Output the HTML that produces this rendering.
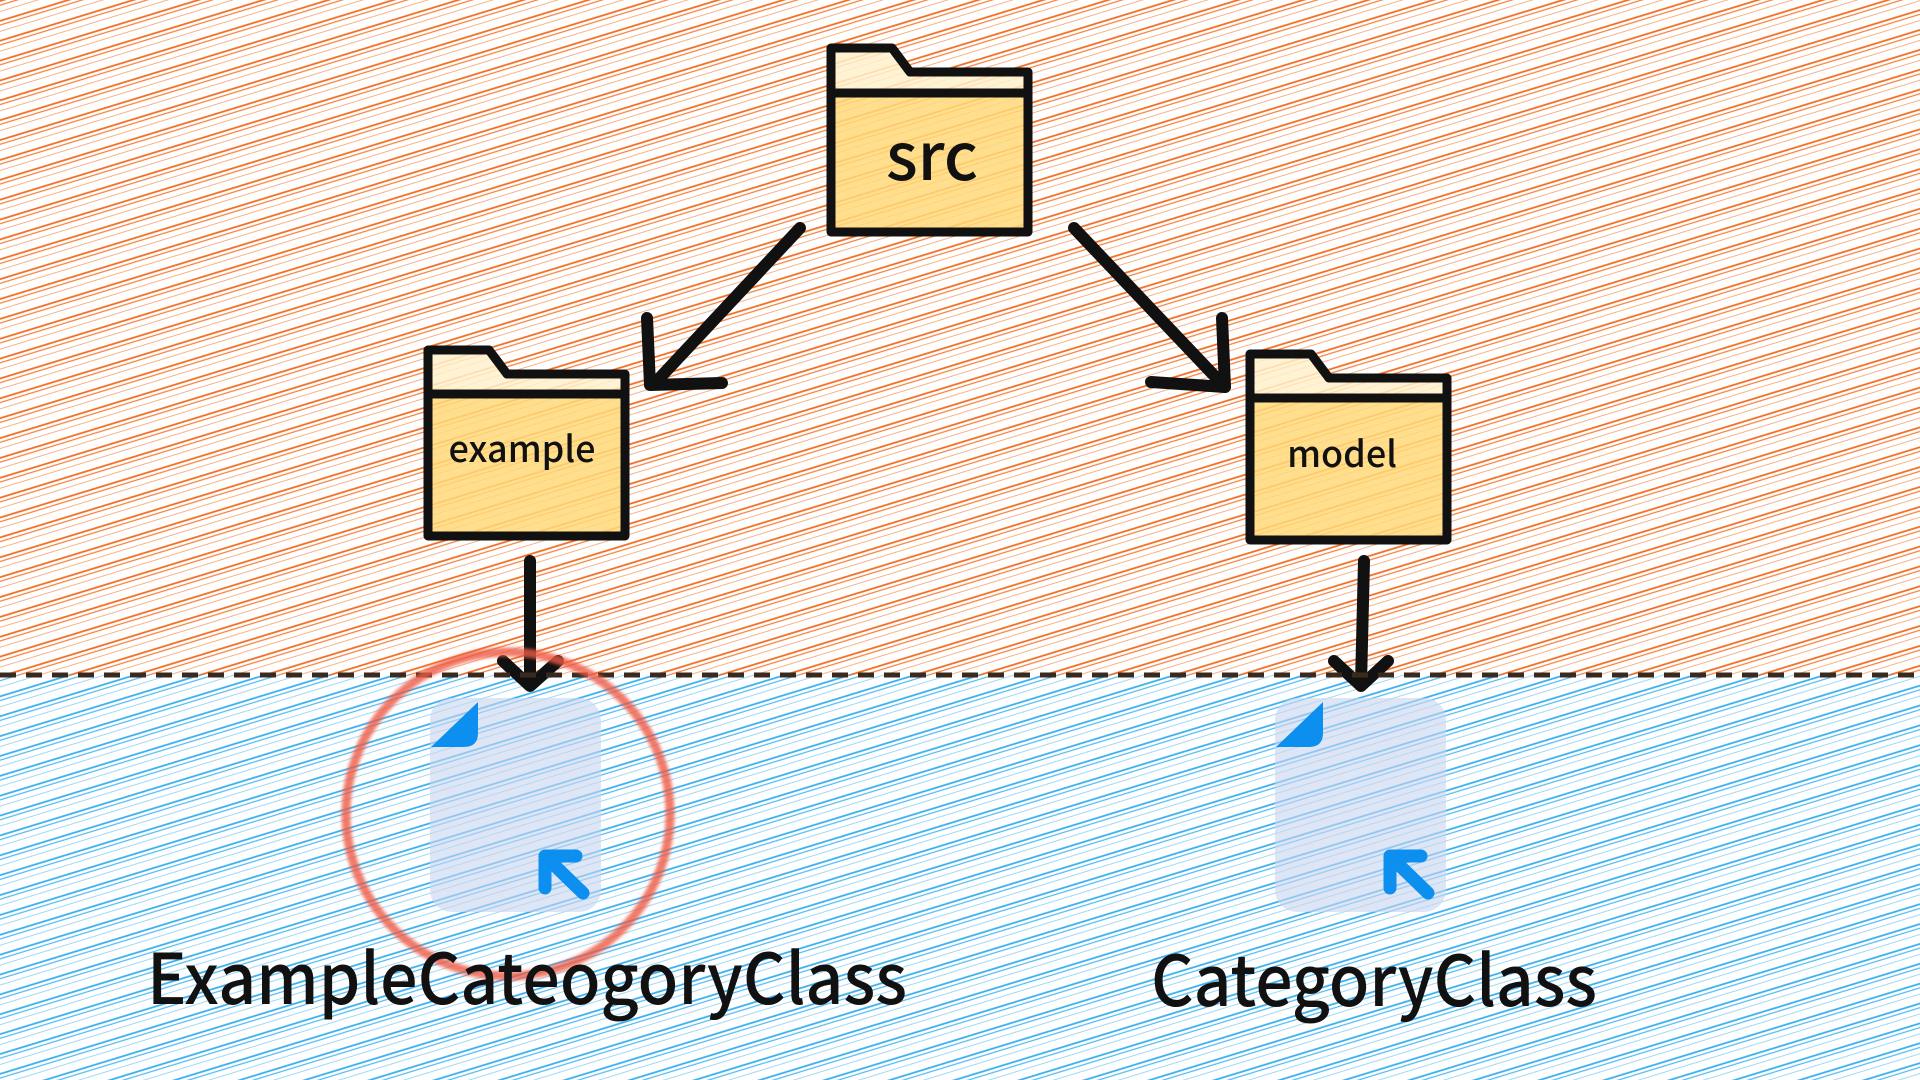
<!DOCTYPE html>
<html><head><meta charset="utf-8"><style>
html,body{margin:0;padding:0;width:1920px;height:1080px;overflow:hidden;background:#fff}
svg{display:block}
text{font-family:"Noto Sans CJK SC","Liberation Sans",sans-serif;font-weight:500}
</style></head><body>
<svg width="1920" height="1080" viewBox="0 0 1920 1080" xmlns="http://www.w3.org/2000/svg">
<defs>
<pattern id="po" width="60" height="19" patternUnits="userSpaceOnUse" patternTransform="rotate(-17)">
<line x1="0" y1="1" x2="60" y2="1" stroke="#f26b1d" stroke-width="1.7"/>
<line x1="0" y1="5" x2="60" y2="5" stroke="#f26b1d" stroke-width="1.3" opacity="0.85"/>
<line x1="0" y1="11" x2="60" y2="11" stroke="#f58a4d" stroke-width="1.1" opacity="0.65"/>
</pattern>
<pattern id="pb" width="60" height="19" patternUnits="userSpaceOnUse" patternTransform="rotate(-17)">
<line x1="0" y1="1" x2="60" y2="1" stroke="#35aef0" stroke-width="1.7"/>
<line x1="0" y1="5" x2="60" y2="5" stroke="#35aef0" stroke-width="1.3" opacity="0.85"/>
<line x1="0" y1="11" x2="60" y2="11" stroke="#6cc6f5" stroke-width="1.1" opacity="0.65"/>
</pattern>
<filter id="blur"><feGaussianBlur stdDeviation="1.5"/></filter>
</defs>
<rect x="0" y="0" width="1920" height="675" fill="url(#po)"/>
<rect x="0" y="675" width="1920" height="405" fill="url(#pb)"/>

<g stroke="#111" stroke-width="9" stroke-linejoin="round">
<path d="M831,48 L892,48 L910,72 L1028,72 L1028,93 L831,93 Z" fill="#fff1cc" fill-opacity="0.85"/>
<rect x="831" y="93" width="197" height="139" fill="#ffd97a" fill-opacity="0.85"/>
<path d="M428,350 L489,350 L507,374 L625,374 L625,394 L428,394 Z" fill="#fff1cc" fill-opacity="0.85"/>
<rect x="428" y="394" width="197" height="142" fill="#ffd97a" fill-opacity="0.85"/>
<path d="M1250,354 L1311,354 L1329,378 L1447,378 L1447,398 L1250,398 Z" fill="#fff1cc" fill-opacity="0.85"/>
<rect x="1250" y="398" width="197" height="142" fill="#ffd97a" fill-opacity="0.85"/>
</g>
<text x="932" y="180" font-size="66" text-anchor="middle" fill="#111">src</text>
<text x="522" y="462" font-size="36" text-anchor="middle" fill="#111">example</text>
<text x="1342" y="467" font-size="36" text-anchor="middle" fill="#111">model</text>

<g stroke="#111" stroke-width="12" stroke-linecap="round" stroke-linejoin="round" fill="none">
<path d="M800,228 L655,383"/><path d="M647,318 L650,385 L722,383"/>
<path d="M1074,228 L1225,387"/><path d="M1222,318 L1225,387 L1151,382"/>
<path d="M530,561 L530,684"/><path d="M503,661 L530,686 L558,661"/>
<path d="M1364,561 L1361,684"/><path d="M1334,661 L1361,686 L1388,661"/>
</g>

<line x1="0" y1="675" x2="1920" y2="675" stroke="#3a2a1e" stroke-width="5" stroke-dasharray="16,10"/>

<g>
<rect x="430" y="698" width="171" height="214" rx="22" fill="#c8d6f0" fill-opacity="0.6"/>
<path d="M431,747 L478,702 L478,733 Q478,747 464,747 Z" fill="#0d8ff0"/>
<path d="M545,888 L545,856 L576,856 M550,861 L583,893" stroke="#0d8ff0" stroke-width="13" stroke-linecap="round" stroke-linejoin="round" fill="none"/>
<rect x="1275" y="698" width="171" height="214" rx="22" fill="#c8d6f0" fill-opacity="0.6"/>
<path d="M1276,747 L1323,702 L1323,733 Q1323,747 1309,747 Z" fill="#0d8ff0"/>
<path d="M1390,888 L1390,856 L1421,856 M1395,861 L1428,893" stroke="#0d8ff0" stroke-width="13" stroke-linecap="round" stroke-linejoin="round" fill="none"/>
</g>

<circle cx="508" cy="814" r="162" fill="none" stroke="#ee5a44" stroke-width="9" opacity="0.8" filter="url(#blur)"/>

<text x="527" y="1004" font-size="70" text-anchor="middle" fill="#111" textLength="760" lengthAdjust="spacingAndGlyphs">ExampleCateogoryClass</text>
<text x="1374" y="1006" font-size="70" text-anchor="middle" fill="#111" textLength="446" lengthAdjust="spacingAndGlyphs">CategoryClass</text>
</svg>
</body></html>
